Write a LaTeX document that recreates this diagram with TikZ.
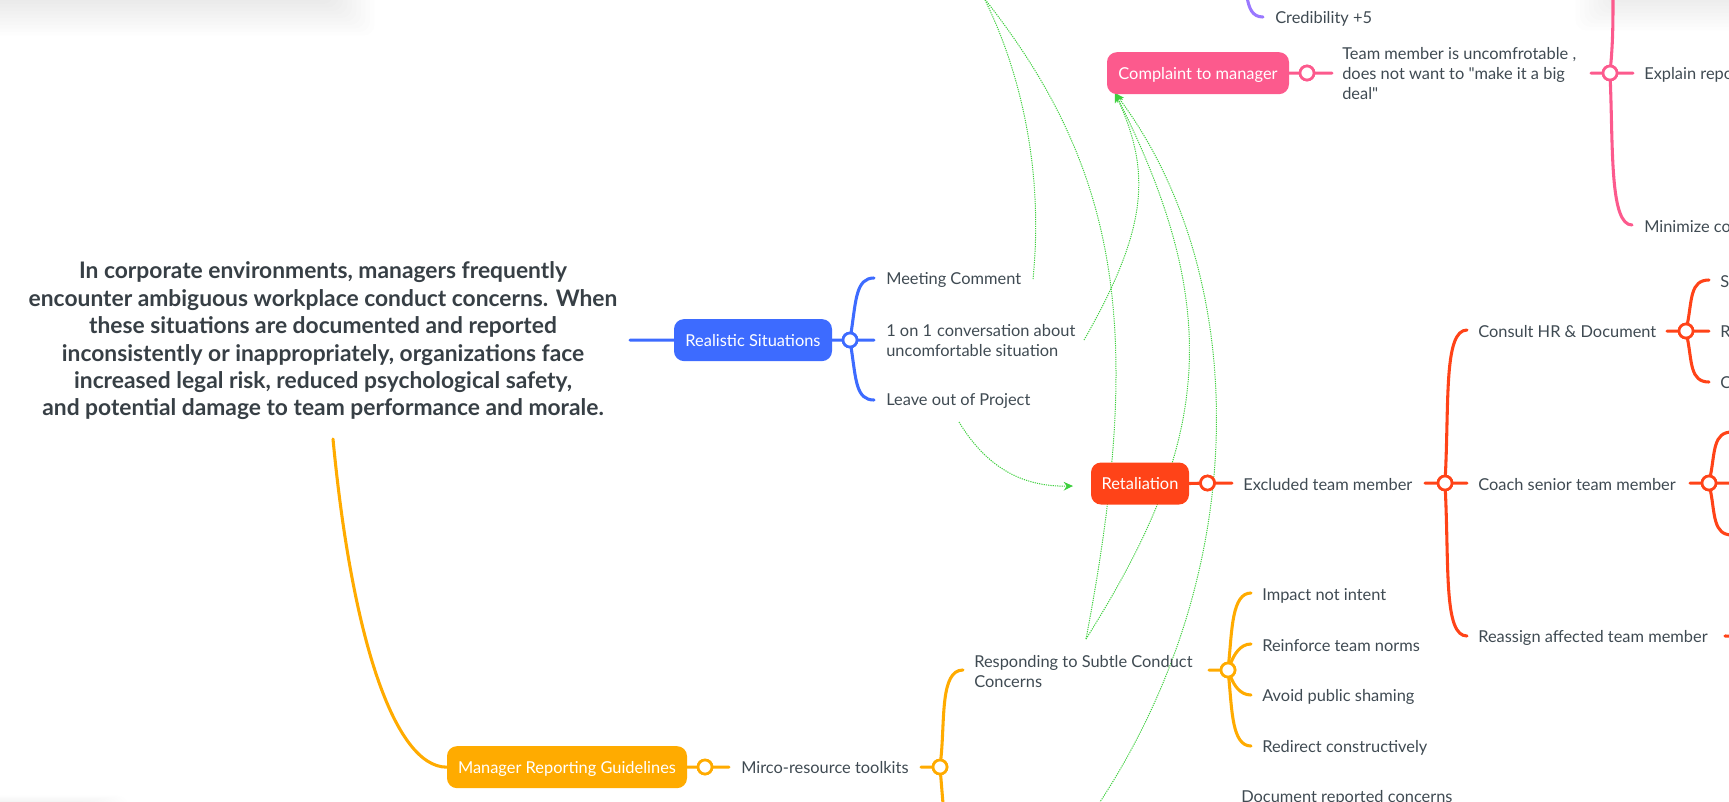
\documentclass[tikz,border=0pt]{standalone}
\usepackage{fontspec}
\setmainfont{Lato}
\newfontfamily\plainq{Lato}
\usetikzlibrary{arrows.meta}
\definecolor{cblue}{HTML}{3D6BFF}
\definecolor{cpink}{HTML}{FC5A8D}
\definecolor{cred}{HTML}{FF4318}
\definecolor{corange}{HTML}{FFAB00}
\definecolor{cpurple}{HTML}{9A78FF}
\definecolor{cgreen}{HTML}{3ECF3E}
\definecolor{ctext}{HTML}{3F4A52}
\definecolor{chead}{HTML}{373F45}
\tikzset{
  boxnode/.style={rounded corners=7.5pt,minimum height=31.5pt,text=white,inner sep=0pt,text height=11pt,text depth=1.3pt,font=\fontsize{12.3}{15}\selectfont},
  leaf/.style={anchor=west,inner sep=0pt,align=left,text=ctext,xshift=-0.75pt,font=\fontsize{12.3}{15}\selectfont},
  hub/.style={circle,draw,fill=white,line width=2pt,minimum size=10.5pt,inner sep=0pt},
  branch/.style={line width=2.3pt,line cap=round},
  link/.style={cgreen,line width=0.75pt,dash pattern=on 0.9pt off 0.8pt},
  linktip/.style={link,-{Stealth[length=7pt,width=6.5pt]}}
}
\begin{document}
\begin{tikzpicture}[x=0.75pt,y=-0.75pt]
\useasboundingbox (0,0) rectangle (1729,801);
\begin{scope}
\clip (0,0) rectangle (1729,801);
% window shadows
\foreach \i in {0,...,11}{
  \fill[black,opacity=0.007,rounded corners=8pt] (-60,-60) rectangle (325+4.5*\i,-3+3.5*\i);
  \fill[black,opacity=0.008,rounded corners=8pt] (1790,-60) rectangle (1625-4.5*\i,-8+3.5*\i);
  \fill[black,opacity=0.002,rounded corners=8pt] (-60,860) rectangle (90+3.5*\i,802-0.6*\i);
}
% free connector ends
\coordinate (cStart) at (630,340.2);
\coordinate (oStart) at (333,439);
\coordinate (topA) at (984,-2);
\coordinate (botA) at (1098,805);
\coordinate (pinkIn) at (1115,93);
\coordinate (retIn) at (1073,486);
\coordinate (mcEnd) at (1033,279);
\coordinate (ooEnd) at (1084,340);
\coordinate (lpEnd) at (959,422);
\coordinate (rsEnd) at (1086,639);
% green links (behind boxes)
\draw[link] (mcEnd) .. controls (1044,170) and (1020,70) .. (topA);
\draw[link] (rsEnd) .. controls (1145,330) and (1120,170) .. (topA);
\draw[linktip] (rsEnd) .. controls (1205,450) and (1229,319) .. (pinkIn);
\draw[linktip] (ooEnd) .. controls (1150,225) and (1150,170) .. (pinkIn);
\draw[linktip] (botA) .. controls (1260,560) and (1245,265) .. (pinkIn);
\draw[linktip] (lpEnd) .. controls (985,465) and (1020,487) .. (retIn);
% boxes
\node[boxnode,fill=cblue,minimum width=118.5pt] (rs) at (753,340.1) {Realistic Situations};
\node[boxnode,fill=cpink,minimum width=136.5pt] (cm) at (1198,73.15) {Complaint to manager};
\node[boxnode,fill=cred,minimum width=73.5pt] (rt) at (1140,483.5) {Retaliation};
\node[boxnode,fill=corange,minimum width=180pt] (mg) at (567,767.15) {Manager Reporting Guidelines};
% central text
\node[anchor=center,align=center,inner sep=0pt,text=chead,font=\fontsize{17.1}{20.55}\selectfont\bfseries] (root) at (323,341)
{In corporate environments, managers frequently\\encounter ambiguous workplace conduct concerns. When\\these situations are documented and reported\\inconsistently or inappropriately, organizations face\\increased legal risk, reduced psychological safety,\\and potential damage to team performance and morale.};
% leaves
\node[leaf] (mc) at (887,280) {Meeting Comment};
\node[leaf] (oo) at (887,341) {1 on 1\hspace{0.3em}conversation about\\uncomfortable situation};
\node[leaf] (lp) at (887,401) {Leave out of Project};
\node[leaf] (cr) at (1276,19) {Credibility +5};
\node[leaf] (tm) at (1343,74) {Team member is uncomfrotable ,\\does not want to {\plainq"}make it a big\\deal{\plainq"}};
\node[leaf] (ex) at (1645,75) {Explain repo};
\node[leaf] (mi) at (1645,227) {Minimize co};
\node[leaf] (et) at (1244,485) {Excluded team member};
\node[leaf] (hr) at (1479,332) {Consult HR \& Document};
\node[leaf] (cs) at (1479,485) {Coach senior team member};
\node[leaf] (ra) at (1479,638) {Reassign affected team member};
\node[leaf] (ls) at (1721,282) {S};
\node[leaf] (lr) at (1721,332) {R};
\node[leaf] (lc) at (1721,383) {C};
\node[leaf] (mk) at (742,768) {Mirco-resource toolkits};
\node[leaf] (sc) at (975,672) {Responding to Subtle Conduct\\Concerns};
\node[leaf] (ii) at (1263,596) {Impact not intent};
\node[leaf] (tn) at (1263,646) {Reinforce team norms};
\node[leaf] (ps) at (1263,697) {Avoid public shaming};
\node[leaf] (rc) at (1263,748) {Redirect constructively};
\node[leaf] (dc) at (1242,798) {Document reported concerns};
% hubs
\node[hub,draw=cblue] (h1) at (850,340) {};
\node[hub,draw=cpink] (h2) at (1307,73) {};
\node[hub,draw=cpink] (h3) at (1610,73) {};
\node[hub,draw=cred] (h4) at (1207.5,483) {};
\node[hub,draw=cred] (h5) at (1445,483) {};
\node[hub,draw=cred] (h6) at (1686,331) {};
\node[hub,draw=cred] (h7) at (1709,483) {};
\node[hub,draw=corange] (h8) at (705,767) {};
\node[hub,draw=corange] (h9) at (940,767) {};
\node[hub,draw=corange] (h10) at (1228,670) {};
% branch coordinates
\coordinate (b1a) at (874,278); \coordinate (b1b) at (874,340.15); \coordinate (b1c) at (874,400);
\coordinate (b2) at (1332,73.15); \coordinate (b3a) at (1591,73.15); \coordinate (b3b) at (1633,73.15);
\coordinate (b3c) at (1613,-3); \coordinate (b3d) at (1632,225);
\coordinate (b4) at (1232,483.15); \coordinate (b5a) at (1425,483.15); \coordinate (b5b) at (1467,483.15);
\coordinate (b5c) at (1467,330); \coordinate (b5d) at (1467,636);
\coordinate (b6a) at (1667,331.15); \coordinate (b6b) at (1709,331.15); \coordinate (b6c) at (1709,280); \coordinate (b6d) at (1709,382);
\coordinate (b7a) at (1690,483.15); \coordinate (b7b) at (1732,483.15); \coordinate (b7c) at (1732,432); \coordinate (b7d) at (1732,535);
\coordinate (b8) at (729,767.15); \coordinate (b9a) at (921,767.15); \coordinate (b9b) at (963,670); \coordinate (b9c) at (943.2,806);
\coordinate (b10a) at (1209,670.15); \coordinate (b10b) at (1251,593); \coordinate (b10c) at (1251,644); \coordinate (b10d) at (1251,695); \coordinate (b10e) at (1251,746);
\coordinate (b11) at (1725,636); \coordinate (b11b) at (1732,636.15);
\coordinate (p1) at (1247,-3); \coordinate (p2) at (1263,17);
% branches
\draw[branch,cblue] (cStart) -- (rs.west);
\draw[branch,cblue] (rs.east) -- (h1) -- (b1b);
\draw[branch,cblue] (h1) .. controls (856,300) and (856,278) .. (b1a);
\draw[branch,cblue] (h1) .. controls (856,380) and (856,400) .. (b1c);
\draw[branch,cpink] (cm.east) -- (h2) -- (b2);
\draw[branch,cpink] (b3a) -- (h3) -- (b3b);
\draw[branch,cpink] (h3) .. controls (1613,40) and (1613,20) .. (b3c);
\draw[branch,cpink] (h3) .. controls (1613,150) and (1610,225) .. (b3d);
\draw[branch,cred] (rt.east) -- (h4) -- (b4);
\draw[branch,cred] (b5a) -- (h5) -- (b5b);
\draw[branch,cred] (h5) .. controls (1449,400) and (1444,330) .. (b5c);
\draw[branch,cred] (h5) .. controls (1449,570) and (1444,636) .. (b5d);
\draw[branch,cred] (b6a) -- (h6) -- (b6b);
\draw[branch,cred] (h6) .. controls (1692,300) and (1690,280) .. (b6c);
\draw[branch,cred] (h6) .. controls (1692,362) and (1690,382) .. (b6d);
\draw[branch,cred] (b7a) -- (h7) -- (b7b);
\draw[branch,cred] (h7) .. controls (1715,452) and (1713,432) .. (b7c);
\draw[branch,cred] (h7) .. controls (1715,514) and (1713,535) .. (b7d);
\draw[branch,cred] (b11) -- (b11b);
\draw[branch,corange] (oStart) .. controls (352,640) and (395,767) .. (mg.west);
\draw[branch,corange] (mg.east) -- (h8) -- (b8);
\draw[branch,corange] (b9a) -- (h9);
\draw[branch,corange] (h9) .. controls (945,720) and (940,670) .. (b9b);
\draw[branch,corange] (h9) -- (b9c);
\draw[branch,corange] (b10a) -- (h10);
\draw[branch,corange] (h10) .. controls (1232,630) and (1232,593) .. (b10b);
\draw[branch,corange] (h10) .. controls (1234,655) and (1240,644) .. (b10c);
\draw[branch,corange] (h10) .. controls (1234,685) and (1240,695) .. (b10d);
\draw[branch,corange] (h10) .. controls (1232,710) and (1232,746) .. (b10e);
\draw[branch,cpurple] (p1) .. controls (1249,8) and (1252,17) .. (p2);
% hubs on top of branch ends
\node[hub,draw=cblue] at (h1) {};
\node[hub,draw=cpink] at (h2) {};
\node[hub,draw=cpink] at (h3) {};
\node[hub,draw=cred] at (h4) {};
\node[hub,draw=cred] at (h5) {};
\node[hub,draw=cred] at (h6) {};
\node[hub,draw=cred] at (h7) {};
\node[hub,draw=corange] at (h8) {};
\node[hub,draw=corange] at (h9) {};
\node[hub,draw=corange] at (h10) {};
\end{scope}
\end{tikzpicture}
\end{document}
